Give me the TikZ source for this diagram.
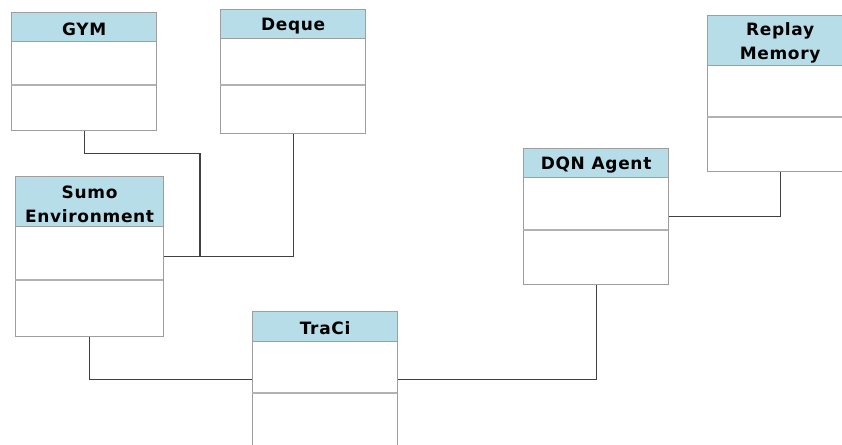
\documentclass[tikz,border=0pt]{standalone}
\usepackage{fontspec}
\setmainfont{DejaVu Sans}
\newfontfamily\headfont[LetterSpace=4]{DejaVu Sans Bold}
\begin{document}
\begin{tikzpicture}[x=1pt,y=-1pt,
  classbox/.style={draw=black!38, line width=1.2pt, rectangle, inner sep=0pt,
    minimum width=145pt, anchor=north west},
  classhead/.style={draw=black!38, line width=1.2pt, fill=headblue, rectangle,
    inner sep=0pt, minimum width=145pt, anchor=north west},
  headtext/.style={inner sep=0pt, align=center,
    font=\headfont\fontsize{17}{24}\selectfont},
  divider/.style={draw=black!30, line width=1.2pt},
  conn/.style={draw=black!75, line width=1.1pt}]
\definecolor{headblue}{HTML}{B7DDE8}
\useasboundingbox (0,0) rectangle (842,444);

% GYM
\node[classhead, minimum height=29pt] (gymh) at (11,12) {};
\node[headtext] (gymt) at ([yshift=-2pt]gymh.center) {GYM};
\node[classbox, minimum height=118pt] (gym) at (11,12) {};
\draw[divider] (11,85) -- (156,85);

% Deque
\node[classhead, minimum height=29pt] (dequeh) at (220,9) {};
\node[headtext] (dequet) at ([yshift=-2pt]dequeh.center) {Deque};
\node[classbox, minimum height=124pt] (deque) at (220,9) {};
\draw[divider] (220,85) -- (365,85);

% Replay Memory
\node[classhead, minimum height=50pt] (replayh) at (707,15) {};
\node[headtext] (replayt) at ([yshift=-2pt]replayh.center) {Replay\\Memory};
\node[classbox, minimum height=156pt] (replay) at (707,15) {};
\draw[divider] (707,117) -- (852,117);

% DQN Agent
\node[classhead, minimum height=29pt] (dqnh) at (523,148) {};
\node[headtext] (dqnt) at ([yshift=-2pt]dqnh.center) {DQN Agent};
\node[classbox, minimum height=136pt] (dqn) at (523,148) {};
\draw[divider] (523,230) -- (668,230);

% Sumo Environment
\node[classhead, minimum width=148pt, minimum height=50pt] (sumoh) at (15,176) {};
\node[headtext] (sumot) at ([yshift=-3pt]sumoh.center) {Sumo\\Environment};
\node[classbox, minimum width=148pt, minimum height=160pt] (sumo) at (15,176) {};
\draw[divider] (15,280) -- (163,280);

% TraCi
\node[classhead, minimum height=30pt] (tracih) at (252,311) {};
\node[headtext] (tracit) at ([yshift=-2pt]tracih.center) {TraCi};
\node[classbox, minimum height=136pt] (traci) at (252,311) {};
\draw[divider] (252,393) -- (397,393);

% connectors
\coordinate (gymjoin) at (200,256);
\draw[conn] (gym.south) -- ++(0,22) -| (gymjoin);
\draw[conn] (sumo.east) -| (deque.south);
\draw[conn] (sumo.south) |- (traci.west);
\draw[conn] (traci.east) -| (dqn.south);
\draw[conn] (dqn.east) -| (replay.south);
\end{tikzpicture}
\end{document}
